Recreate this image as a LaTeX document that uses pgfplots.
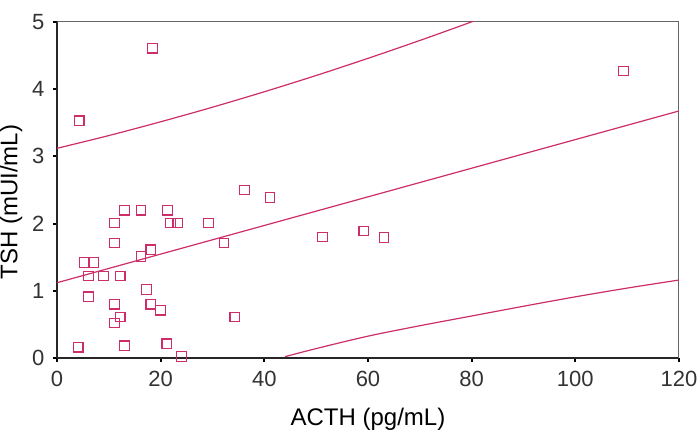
\documentclass[border=0pt]{standalone}
\usepackage{pgfplots}
\pgfplotsset{compat=1.18}
\usepackage{fontspec}
\setmainfont{Liberation Sans}
\definecolor{pk}{RGB}{205,45,105}
\begin{document}
\begin{tikzpicture}
\begin{axis}[
  name=ax,
  scale only axis,
  width=311pt, height=168pt,
  xmin=0, xmax=120, ymin=0, ymax=5,
  xtick={0,20,...,120}, ytick={0,1,...,5},
  axis x line*=bottom, axis y line*=left,
  axis line style={black!85, line width=0.7pt},
  tick align=outside, major tick length=1.8pt,
  tick style={black, line width=1pt},
  every tick label/.append style={font=\fontsize{11}{13}\selectfont, text=black!80},
  /pgf/number format/assume math mode=true,
  xlabel={ACTH (pg/mL)}, ylabel={TSH (mUI/mL)},
  label style={font=\fontsize{12}{14}\selectfont},
  xlabel style={yshift=-4pt},
  ylabel style={yshift=-2pt, xshift=-6pt},
  xticklabel style={yshift=-1pt},
  yticklabel style={xshift=-1pt},
]
\draw[black!60, line width=0.5pt] (rel axis cs:0,1) -- (rel axis cs:1,1) -- (rel axis cs:1,0);
% regression line
\addplot[pk, line width=0.6pt] coordinates {(0,1.12) (120,3.676)};
% upper prediction band
\addplot[pk, line width=0.6pt, smooth] coordinates {
(0,3.12) (10,3.31) (20,3.515) (30,3.732) (40,3.962) (50,4.204) (60,4.459) (70,4.725) (80,5.002) (90,5.288)};
% lower prediction band
\addplot[pk, line width=0.6pt, smooth] coordinates {
(44,0.02) (50,0.14) (60,0.325) (70,0.48) (80,0.625) (90,0.77) (100,0.91) (110,1.04) (120,1.16)};
% data
\addplot[only marks, mark=square, mark size=2.4pt, mark options={pk, line width=0.6pt}] coordinates {
(18.4,4.61) (4.3,3.53) (36.2,2.50) (41.1,2.39) (109.3,4.27)
(59.2,1.89) (63.1,1.79) (51.2,1.80)
(13.0,2.20) (16.2,2.20) (21.3,2.20)
(11.1,2.01) (21.9,2.01) (23.3,2.01) (29.2,2.01)
(11.1,1.71) (32.2,1.71) (18.1,1.61) (16.2,1.51)
(5.2,1.42) (7.1,1.42)
(6.1,1.22) (9.0,1.22) (12.2,1.22)
(17.3,1.02) (6.1,0.91)
(11.1,0.80) (18.1,0.80) (20.0,0.71)
(12.2,0.61) (11.1,0.52) (34.3,0.61)
(4.1,0.16) (13.0,0.18) (21.2,0.21) (24.0,0.02)
};
\end{axis}
\pgfresetboundingbox
\path[use as bounding box] ([xshift=-28.5pt,yshift=-36.5pt]ax.south west) rectangle ([xshift=9.5pt,yshift=11pt]ax.north east);
\end{tikzpicture}
\end{document}
